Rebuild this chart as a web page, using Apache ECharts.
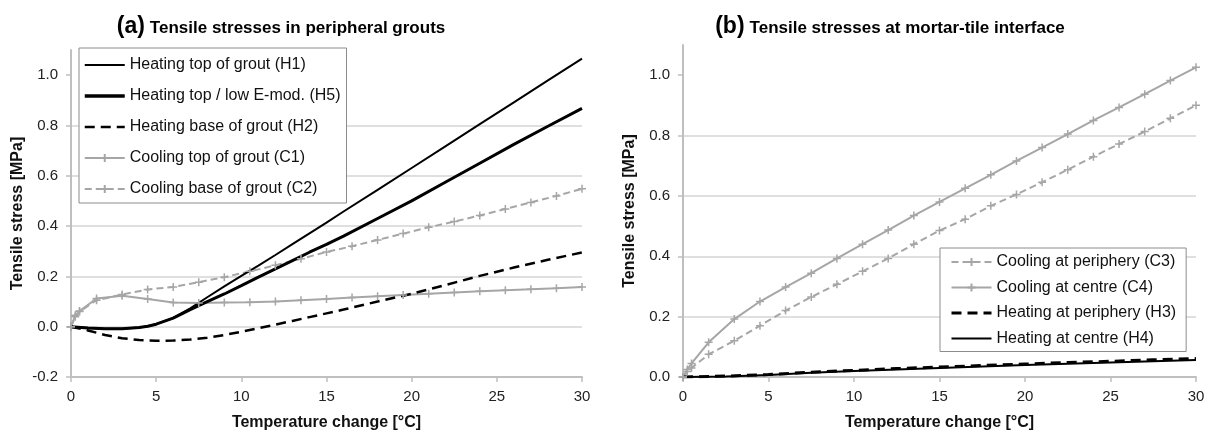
<!DOCTYPE html>
<html>
<head>
<meta charset="utf-8">
<script src="https://cdn.jsdelivr.net/npm/echarts@6/dist/echarts.min.js"></script>
<style>
  html, body { margin: 0; padding: 0; background: #fff; }
  #main { width: 1215px; height: 436px; }
</style>
</head>
<body>
<div id="main"></div>
<script>
// temperature steps
var tempH = [0, 1, 2, 3, 4, 4.5, 5, 6, 7, 8, 9, 10, 11, 12, 13, 14, 15, 16, 18, 20, 22, 24, 26, 28, 30];
var tempC = [0, 0.25, 0.5, 1.5, 3, 4.5, 6, 7.5, 9, 10.5, 12, 13.5, 15, 16.5, 18, 19.5, 21, 22.5, 24, 25.5, 27, 28.5, 30];
var tempHB = [0, 2.5, 5, 7.5, 10, 12.5, 15, 17.5, 20, 22.5, 25, 27.5, 30];

// (a) peripheral grouts
var h1 = [0, -0.005, -0.008, -0.008, -0.003, 0.002, 0.01, 0.035, 0.073, 0.117, 0.16, 0.202, 0.243, 0.285, 0.328, 0.371, 0.414, 0.458, 0.544, 0.631, 0.718, 0.805, 0.892, 0.979, 1.066];
var h5 = [0, -0.005, -0.008, -0.008, -0.003, 0.002, 0.01, 0.034, 0.068, 0.1, 0.13, 0.163, 0.197, 0.23, 0.263, 0.296, 0.327, 0.36, 0.43, 0.5, 0.575, 0.65, 0.725, 0.797, 0.868];
var h2 = [0, -0.015, -0.033, -0.046, -0.053, -0.055, -0.056, -0.055, -0.051, -0.044, -0.033, -0.02, -0.006, 0.008, 0.023, 0.038, 0.053, 0.068, 0.1, 0.131, 0.166, 0.202, 0.235, 0.266, 0.295];
var c1 = [0, 0.045, 0.062, 0.112, 0.123, 0.11, 0.096, 0.094, 0.096, 0.097, 0.1, 0.105, 0.11, 0.116, 0.121, 0.126, 0.131, 0.136, 0.141, 0.145, 0.149, 0.153, 0.158];
var c2 = [0, 0.04, 0.06, 0.105, 0.128, 0.148, 0.158, 0.177, 0.197, 0.22, 0.244, 0.27, 0.297, 0.32, 0.345, 0.37, 0.395, 0.418, 0.442, 0.468, 0.494, 0.52, 0.548];

// (b) mortar-tile interface
var c3 = [0, 0.018, 0.03, 0.075, 0.12, 0.17, 0.22, 0.265, 0.307, 0.35, 0.393, 0.44, 0.485, 0.523, 0.567, 0.605, 0.645, 0.687, 0.73, 0.772, 0.813, 0.857, 0.9];
var c4 = [0, 0.025, 0.045, 0.115, 0.192, 0.25, 0.298, 0.344, 0.393, 0.44, 0.487, 0.535, 0.58, 0.625, 0.67, 0.716, 0.76, 0.805, 0.85, 0.893, 0.937, 0.982, 1.026];
var h3 = [0, 0.003, 0.008, 0.016, 0.022, 0.028, 0.033, 0.038, 0.043, 0.048, 0.052, 0.057, 0.061];
var h4 = [0, 0.002, 0.007, 0.014, 0.02, 0.025, 0.03, 0.035, 0.04, 0.044, 0.048, 0.052, 0.056];

// tick labels
var xTicks = [0, 5, 10, 15, 20, 25, 30];
var yTicksA = [-0.2, 0, 0.2, 0.4, 0.6, 0.8, 1.0];
var yTicksB = [0, 0.2, 0.4, 0.6, 0.8, 1.0];

var namesA = ['Heating top of grout (H1)', 'Heating top / low E-mod. (H5)', 'Heating base of grout (H2)', 'Cooling top of grout (C1)', 'Cooling base of grout (C2)'];
var namesB = ['Cooling at periphery (C3)', 'Cooling at centre (C4)', 'Heating at periphery (H3)', 'Heating at centre (H4)'];

var GREY = '#a6a6a6';
var PLUS = 'path://M5,0L5,10M0,5L10,5';
var FONT = 'Liberation Sans, Arial, sans-serif';

function pairs(xs, ys) {
    var out = [];
    for (var i = 0; i < xs.length; i++) out.push([xs[i], ys[i]]);
    return out;
}

function xAxisFor(idx) {
    return {
        gridIndex: idx, type: 'value', min: 0, max: 30, interval: 5,
        name: 'Temperature change [°C]', nameLocation: 'middle', nameGap: 38,
        nameTextStyle: { fontFamily: FONT, fontWeight: 'bold', fontSize: 16, color: '#111' },
        axisLine: { onZero: false, lineStyle: { color: '#bfbfbf', width: 2 } },
        axisTick: { show: true, length: 5, lineStyle: { color: '#bfbfbf', width: 1.5 }, customValues: xTicks },
        axisLabel: { fontFamily: FONT, fontSize: 15, color: '#222', margin: 12, customValues: xTicks },
        splitLine: { show: false }
    };
}

function yAxisFor(idx, min, ticks) {
    return {
        gridIndex: idx, type: 'value', min: min, max: 1.1, interval: 0.2,
        name: 'Tensile stress [MPa]', nameLocation: 'middle', nameGap: 45,
        nameTextStyle: { fontFamily: FONT, fontWeight: 'bold', fontSize: 16, color: '#111' },
        axisLine: { show: true, lineStyle: { color: '#bfbfbf', width: 2 } },
        axisTick: { show: true, length: 5, lineStyle: { color: '#bfbfbf', width: 1.5 }, customValues: ticks },
        axisLabel: {
            fontFamily: FONT, fontSize: 15, color: '#222', margin: 13, customValues: ticks,
            formatter: function (v) { return v.toFixed(1); }
        },
        splitLine: { show: true, showMaxLine: false, lineStyle: { color: '#d4d4d4', width: 1.5 } }
    };
}

function lineSeries(name, idx, data, color, width, dash, plus) {
    return {
        name: name, type: 'line', xAxisIndex: idx, yAxisIndex: idx,
        data: data, smooth: false,
        symbol: plus ? PLUS : 'none', symbolSize: 8,
        itemStyle: { color: color, borderColor: color, borderWidth: 1.5 },
        lineStyle: { color: color, width: width, type: dash },
        emphasis: { disabled: true }, animation: false
    };
}

// legend entries: heating lines have no marker, line width copied from the series
function legendItems(names, plusFlags, widths) {
    return names.map(function (n, i) {
        var item = { name: n, lineStyle: { width: widths[i] } };
        if (!plusFlags[i]) item.itemStyle = { opacity: 0 };
        return item;
    });
}

var myChart = echarts.init(document.getElementById('main'));

var titleRich = {
    p: { fontFamily: FONT, fontWeight: 'bold', fontSize: 23, color: '#000' },
    t: { fontFamily: FONT, fontWeight: 'bold', fontSize: 17, color: '#000', padding: [3, 0, 0, 0] }
};

var option = {
    animation: false,
    title: [
        {
            text: '{p|(a)} {t|Tensile stresses in peripheral grouts}',
            left: 276, top: 10, textAlign: 'center',
            textStyle: { rich: titleRich }
        },
        {
            text: '{p|(b)} {t|Tensile stresses at mortar-tile interface}',
            left: 885, top: 10, textAlign: 'center',
            textStyle: { rich: titleRich }
        }
    ],
    legend: [
        {
            data: legendItems(namesA, [false, false, false, true, true], [2, 3.5, 2.5, 2, 2]),
            orient: 'vertical', left: 79, top: 48,
            padding: [9, 6, 6, 4], itemGap: 15, itemWidth: 40, itemHeight: 10,
            borderColor: '#8c8c8c', borderWidth: 1, backgroundColor: '#fff',
            textStyle: { fontFamily: FONT, fontSize: 16, color: '#111' },
            selectedMode: false
        },
        {
            data: legendItems(namesB, [true, true, false, false], [2, 2, 3, 2]),
            orient: 'vertical', left: 940, top: 248,
            padding: [6, 10, 5, 10], itemGap: 9.5, itemWidth: 40, itemHeight: 10,
            borderColor: '#8c8c8c', borderWidth: 1, backgroundColor: '#fff',
            textStyle: { fontFamily: FONT, fontSize: 16, color: '#111' },
            selectedMode: false
        }
    ],
    grid: [
        { left: 71, right: 633, top: 50, bottom: 59 },
        { left: 683, right: 19, top: 45, bottom: 55 }
    ],
    xAxis: [xAxisFor(0), xAxisFor(1)],
    yAxis: [yAxisFor(0, -0.2, yTicksA), yAxisFor(1, 0, yTicksB)],
    series: [
        lineSeries(namesA[3], 0, pairs(tempC, c1), GREY, 2, 'solid', true),
        lineSeries(namesA[4], 0, pairs(tempC, c2), GREY, 2, [7, 4], true),
        lineSeries(namesA[2], 0, pairs(tempH, h2), '#000', 2.5, [10, 6], false),
        lineSeries(namesA[0], 0, pairs(tempH, h1), '#000', 2, 'solid', false),
        lineSeries(namesA[1], 0, pairs(tempH, h5), '#000', 3, 'solid', false),
        lineSeries(namesB[0], 1, pairs(tempC, c3), GREY, 2, [7, 4], true),
        lineSeries(namesB[1], 1, pairs(tempC, c4), GREY, 2, 'solid', true),
        lineSeries(namesB[3], 1, pairs(tempHB, h4), '#000', 2, 'solid', false),
        lineSeries(namesB[2], 1, pairs(tempHB, h3), '#000', 3, [10, 6], false)
    ]
};

myChart.setOption(option);
</script>
</body>
</html>
